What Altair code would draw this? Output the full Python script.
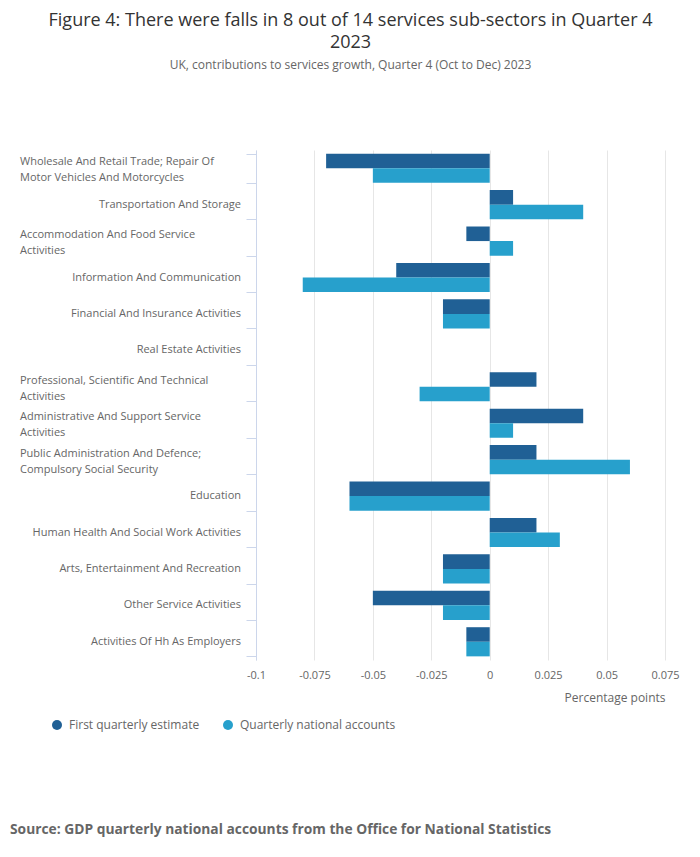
import altair as alt
import pandas as pd

sectors = [
    "Wholesale And Retail Trade; Repair Of|Motor Vehicles And Motorcycles",
    "Transportation And Storage",
    "Accommodation And Food Service|Activities",
    "Information And Communication",
    "Financial And Insurance Activities",
    "Real Estate Activities",
    "Professional, Scientific And Technical|Activities",
    "Administrative And Support Service|Activities",
    "Public Administration And Defence;|Compulsory Social Security",
    "Education",
    "Human Health And Social Work Activities",
    "Arts, Entertainment And Recreation",
    "Other Service Activities",
    "Activities Of Hh As Employers",
]
first_estimate = [-0.07, 0.01, -0.01, -0.04, -0.02, 0, 0.02, 0.04, 0.02, -0.06, 0.02, -0.02, -0.05, -0.01]
qna = [-0.05, 0.04, 0.01, -0.08, -0.02, 0, -0.03, 0.01, 0.06, -0.06, 0.03, -0.02, -0.02, -0.01]
series = ["First quarterly estimate", "Quarterly national accounts"]
colors = ["#206095", "#27a0cc"]
x_ticks = [-0.1, -0.075, -0.05, -0.025, 0, 0.025, 0.05, 0.075]

title_lines = ["Figure 4: There were falls in 8 out of 14 services sub-sectors in Quarter 4", "2023"]
subtitle = "UK, contributions to services growth, Quarter 4 (Oct to Dec) 2023"
source_text = "Source: GDP quarterly national accounts from the Office for National Statistics"

rows = []
for i, s in enumerate(sectors):
    rows.append({"sector": s, "series": series[0], "value": first_estimate[i]})
    rows.append({"sector": s, "series": series[1], "value": qna[i]})
df = pd.DataFrame(rows)

y_enc = alt.Y(
    "sector:N",
    sort=sectors,
    scale=alt.Scale(paddingInner=0.2, paddingOuter=0.1),
    axis=alt.Axis(
        title=None,
        labels=False,
        tickBand="extent",
        tickSize=10,
        tickColor="#ccd6eb",
        domainColor="#ccd6eb",
        grid=False,
    ),
)

bars = alt.Chart(df).mark_bar().encode(
    y=y_enc,
    yOffset=alt.YOffset("series:N", sort=series),
    x=alt.X(
        "value:Q",
        scale=alt.Scale(domain=[-0.1, 0.075], nice=False, zero=False),
        axis=alt.Axis(
            values=x_ticks,
            labelExpr="datum.value + ''",
            labelFlush=False,
            title="Percentage points",
            titleAnchor="end",
            titleFontWeight="normal",
            titleFontSize=12,
            titleColor="#666666",
            titlePadding=12,
            labelFontSize=11,
            labelColor="#666666",
            labelPadding=9,
            domain=False,
            ticks=False,
            grid=True,
            gridColor="#e6e6e6",
        ),
    ),
    color=alt.Color(
        "series:N",
        sort=series,
        scale=alt.Scale(domain=series, range=colors),
        legend=alt.Legend(
            orient="none",
            legendX=-205,
            legendY=569,
            direction="horizontal",
            title=None,
            symbolType="circle",
            symbolSize=100,
            symbolStrokeWidth=0,
            labelFontSize=12,
            labelColor="#666666",
            labelOffset=6,
            columnPadding=22,
            padding=0,
        ),
    ),
)

lab_single = pd.DataFrame({"sector": [s for s in sectors if "|" not in s]})
lab_multi = pd.DataFrame({"sector": [s for s in sectors if "|" in s]})

labels_single = alt.Chart(lab_single).mark_text(
    align="right", baseline="middle", fontSize=11, color="#666666"
).encode(y=alt.Y("sector:N", sort=sectors), x=alt.value(-15), text="sector:N")

labels_multi = alt.Chart(lab_multi).transform_calculate(
    lines="split(datum.sector, '|')"
).mark_text(
    align="left", baseline="middle", fontSize=11, color="#666666", lineHeight=16, dy=-6
).encode(y=alt.Y("sector:N", sort=sectors), x=alt.value(-236), text="lines:N")

src = alt.Chart(pd.DataFrame({"t": [source_text]})).mark_text(
    align="left", baseline="alphabetic", fontSize=13.8, fontWeight="bold", color="#666666"
).encode(text="t:N", x=alt.value(-246), y=alt.value(684))

chart = alt.layer(bars, labels_single, labels_multi, src).properties(
    width=409,
    height=510,
    padding={"left": 2, "top": 4, "right": 10, "bottom": 10},
    title=alt.TitleParams(
        text=title_lines,
        subtitle=subtitle,
        anchor="middle",
        dx=-110,
        fontSize=18,
        fontWeight="normal",
        color="#333333",
        lineHeight=22,
        subtitleFontSize=12,
        subtitleColor="#666666",
        subtitlePadding=8,
        offset=79,
    ),
).configure(font="Open Sans").configure_view(stroke=None)

chart.save("out.html", embed_options={"renderer": "svg", "actions": False})
